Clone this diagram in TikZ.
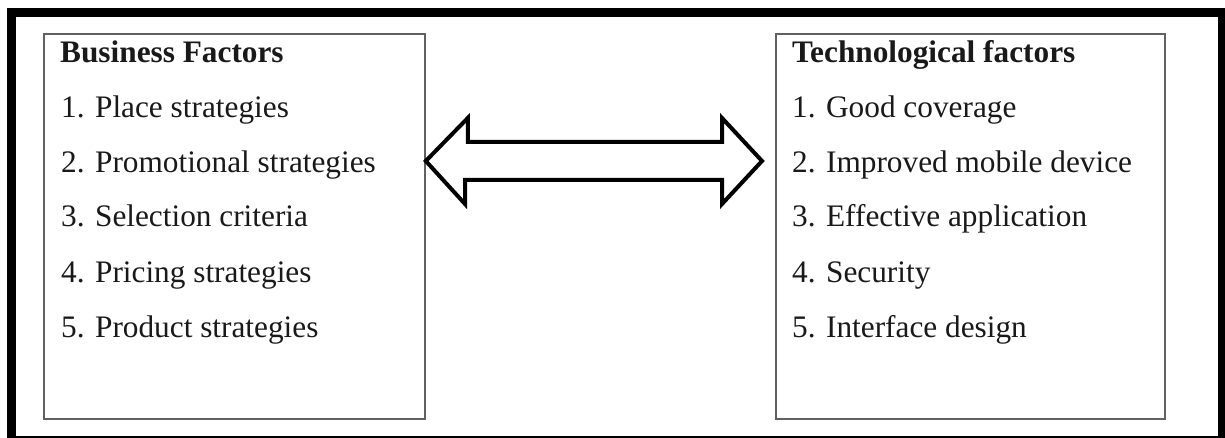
\documentclass[tikz,border=0pt]{standalone}
\usepackage{fontspec}
\setmainfont{Liberation Serif}
\begin{document}
\begin{tikzpicture}[x=1pt,y=-1pt,
  panel/.style={draw=black!62,line width=1.8pt},
  item/.style={anchor=base west,inner sep=0pt,text=black!90,font=\fontsize{31.3}{36}\selectfont},
  head/.style={item,font=\fontsize{31.3}{36}\selectfont\bfseries},
  link/.style={draw=black,line width=4pt,line join=miter,fill=white}]
\useasboundingbox (0,0) rectangle (1225,438);
\clip (0,0) rectangle (1225,438);
% outer frame
\draw[line width=9pt] (11.5,13) rectangle (1222.5,440.5);
% the two factor panels
\node[panel,minimum width=381pt,minimum height=385pt,anchor=north west,inner sep=0pt] (bl) at (43,33) {};
\node[panel,minimum width=389pt,minimum height=385pt,anchor=north west,inner sep=0pt] (tr) at (775,33) {};
% business factors
\node[head] (bh) at (60,63) {Business Factors};
\node[item] (b1) at (61,118) {1. Place strategies};
\node[item] (b2) at (61,173) {2. Promotional strategies};
\node[item] (b3) at (61,227) {3. Selection criteria};
\node[item] (b4) at (61,282) {4. Pricing strategies};
\node[item] (b5) at (61,337) {5. Product strategies};
% technological factors
\node[head] (th) at (792,63) {Technological factors};
\node[item] (t1) at (792,118) {1. Good coverage};
\node[item] (t2) at (792,173) {2. Improved mobile device};
\node[item] (t3) at (792,227) {3. Effective application};
\node[item] (t4) at (792,282) {4. Security};
\node[item] (t5) at (792,337) {5. Interface design};
% block double arrow between the panels
\coordinate (aL) at (bl.east |- 0,161);
\coordinate (aR) at (762,161);
\draw[link] (aL) -- ++(42,-43) -- ++(0,24) -- (722,142) -- (722,118) -- (aR)
  -- (722,204) -- (722,180) -- (465,180) -- (465,204) -- cycle;
\end{tikzpicture}
\end{document}
